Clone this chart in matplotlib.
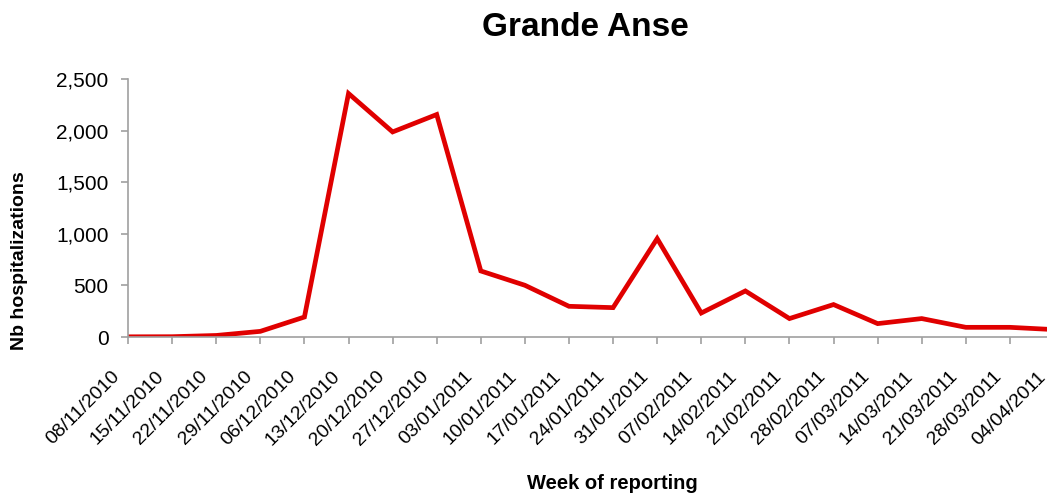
import matplotlib.pyplot as plt
import matplotlib.transforms as mtransforms
from matplotlib.ticker import FuncFormatter

weeks = ["08/11/2010", "15/11/2010", "22/11/2010", "29/11/2010", "06/12/2010",
         "13/12/2010", "20/12/2010", "27/12/2010", "03/01/2011", "10/01/2011",
         "17/01/2011", "24/01/2011", "31/01/2011", "07/02/2011", "14/02/2011",
         "21/02/2011", "28/02/2011", "07/03/2011", "14/03/2011", "21/03/2011",
         "28/03/2011", "04/04/2011"]
hospitalizations = [2, 3, 15, 55, 194, 2363, 1990, 2159, 641, 502,
                    298, 285, 955, 233, 447, 179, 315, 130, 179, 94,
                    94, 72]

plt.rcParams['font.family'] = ['Liberation Sans', 'DejaVu Sans']

fig = plt.figure(figsize=(10.47, 4.93), dpi=100)
# axes runs a bit past the right edge, like the cropped original
ax = fig.add_axes([0.1223, 0.3164, 0.8844, 0.5226])

x = list(range(len(weeks)))
ax.plot(x, hospitalizations, color='#e00000', linewidth=3.4, solid_joinstyle='miter')

ax.set_xlim(0, len(weeks) - 1)
ax.set_ylim(0, 2500)
ax.set_yticks([0, 500, 1000, 1500, 2000, 2500])
ax.yaxis.set_major_formatter(FuncFormatter(lambda v, p: "{:,.0f}".format(v)))
ax.set_xticks(x)
ax.set_xticklabels(weeks, rotation=45, ha='right', rotation_mode='anchor')

for s in ['top', 'right']:
    ax.spines[s].set_visible(False)
for s in ['left', 'bottom']:
    ax.spines[s].set_color('#a0a0a0')
    ax.spines[s].set_linewidth(1.2)
ax.tick_params(axis='both', direction='out', length=5, width=1.2, color='#a0a0a0')
ax.tick_params(axis='y', labelsize=15, pad=9)
ax.tick_params(axis='x', labelsize=14, pad=3)

# shift the date labels down-left, as in the original
shift = mtransforms.ScaledTranslation(-17 / 100, -20 / 100, fig.dpi_scale_trans)
for lab in ax.get_xticklabels():
    lab.set_transform(lab.get_transform() + shift)

fig.text(0.559, 0.945, "Grande Anse", ha='center', va='center', fontsize=24, fontweight='bold')
fig.text(0.019, 0.472, "Nb hospitalizations", ha='center', va='center', rotation=90,
         fontsize=14, fontweight='bold')
fig.text(0.585, 0.02, "Week of reporting", ha='center', va='center', fontsize=14.5,
         fontweight='bold')

fig.savefig("out.png", dpi=100)
